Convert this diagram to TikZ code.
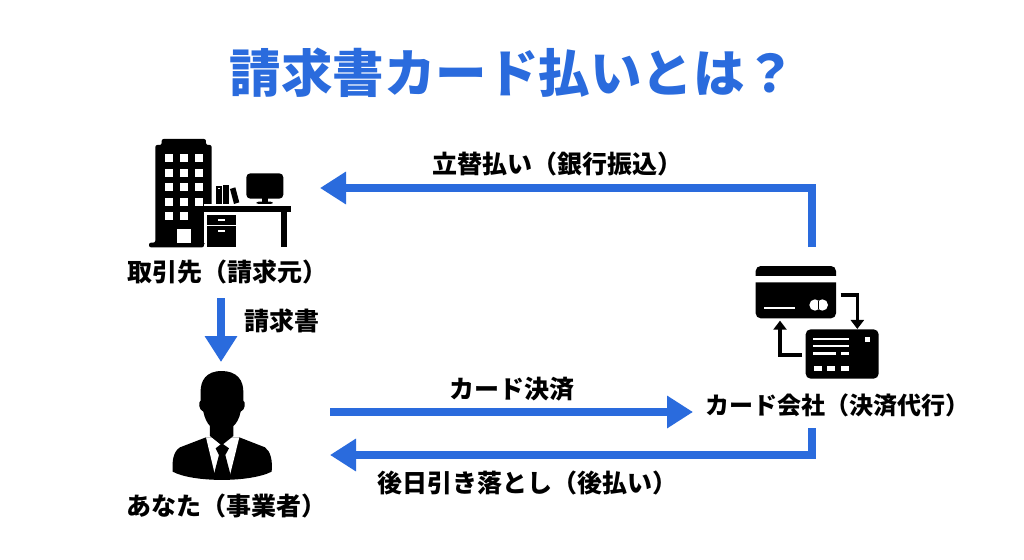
\documentclass[tikz,border=0pt]{standalone}
\usepackage{fontspec}
\setmainfont{Noto Sans CJK JP}
\usetikzlibrary{positioning, arrows.meta, calc}
\definecolor{flowblue}{HTML}{2A6BDD}

\begin{document}
\begin{tikzpicture}[
    x=1pt, y=-1pt,
    title/.style={font=\fontsize{51.5}{56}\selectfont\bfseries, text=flowblue, inner sep=0pt},
    label/.style={font=\fontsize{25}{28}\selectfont\bfseries, inner sep=0pt},
    slot/.style={inner sep=0pt, outer sep=0pt},
    arrow/.style={-{Triangle[length=26pt,width=31pt]}, line width=7.5pt, color=flowblue},
    smallarrow/.style={-{Triangle[length=9pt,width=13pt]}, line width=3.2pt},
    icon/.style={x=0.3333pt, y=-0.3333pt}
]
\useasboundingbox (0,0) rectangle (1024,559);
\fill[white] (0,0) rectangle (1024,559);

% Title
\node[title] (title) at (513,73) {請求書カード払いとは？};

% Slots for the three icons
\node[slot, minimum width=198pt, minimum height=110pt] (office) at (221,188) {};
\node[slot, minimum width=218pt, minimum height=110pt] (person) at (221,433) {};
\node[slot, minimum width=10pt, minimum height=130pt] (card) at (812,312) {};

% Labels
\node[label] (biller) at (227,272) {取引先（請求元）};
\node[label] (invoice) at (282,321) {請求書};
\node[label] (you) at (226,506) {あなた（事業者）};
\node[label] (advance) at (557,164) {立替払い（銀行振込）};
\node[label] (payment) at (512,389) {カード決済};
\node[label, minimum height=46pt, font=\fontsize{24}{28}\selectfont\bfseries] (company) at (837.5,405) {カード会社（決済代行）};
\node[label] (later) at (527.5,483) {後日引き落とし（後払い）};

% Connectors
\coordinate (billerEnd) at (221,298);
\coordinate (personEnd) at (221,362);
\coordinate (payEnd) at (693,412);
\draw[arrow] (card.north) |- (office.east);
\draw[arrow] (billerEnd) -- (personEnd);
\draw[arrow] ([yshift=21pt]person.east) -- (payEnd);
\draw[arrow] (company.south -| card.south) |- ([yshift=-22pt]person.east);

% Office building and desk
\begin{scope}[shift={(130,130)}, icon]
  \fill[rounded corners=2pt] (95,45) -- (95,27) -- (228,27) -- (228,45) -- (245,45) -- (245,338) -- (222,338) -- (222,352) -- (57,352) -- (57,338) -- (76,338) -- (76,45) -- cycle;
  \foreach \cx in {105,150,195}
    \foreach \cy in {72,116,160,203,245}
      \fill[white] (\cx,\cy) rectangle ++(23,24);
  \fill[white] (140,297) rectangle (182,340);
  \fill[white] (222,222) rectangle (245,340);
  \fill (195,245) rectangle (222,340);
  \fill (217,228) rectangle (484,247);
  \fill (453,247) rectangle (472,352);
  \fill (231,254) rectangle (317,284);
  \fill (231,288) rectangle (317,352);
  \fill[white] (264,266) rectangle (284,272);
  \fill[white] (264,300) rectangle (284,306);
  \fill (259,167) rectangle (276,221);
  \fill[white] (264,173) rectangle (270,178);
  \fill (279,164) rectangle (296,221);
  \fill (300,177) -- (316,172) -- (328,217) -- (312,222) -- cycle;
  \fill[rounded corners=4pt] (349,130) rectangle (460,206);
  \fill (397,204) rectangle (413,216);
  \fill[rounded corners=2pt] (380,215) rectangle (428,222);
\end{scope}

% Person in a suit
\begin{scope}[shift={(150,360)}, icon]
  \fill (68,335) .. controls (66,300) and (70,275) .. (90,262) -- (168,232) -- (268,232) -- (345,262) .. controls (362,275) and (368,300) .. (365,335) .. controls (300,368) and (130,368) .. (68,335) -- cycle;
  \fill[white] (168,232) -- (268,232) -- (240,345) -- (195,345) -- cycle;
  \fill (215,33) .. controls (170,33) and (150,60) .. (152,100) -- (152,122) .. controls (144,125) and (146,150) .. (160,155) .. controls (164,175) and (172,190) .. (180,198) -- (180,228) -- (215,256) -- (250,228) -- (250,198) .. controls (260,190) and (268,175) .. (272,155) .. controls (286,150) and (288,125) .. (280,122) -- (280,100) .. controls (282,60) and (260,33) .. (215,33) -- cycle;
  \fill (197,265) -- (216,250) -- (237,265) -- (226,285) -- (243,350) -- (190,350) -- (207,285) -- cycle;
\end{scope}

% Two cards
\begin{scope}[shift={(740,250)}, icon]
  \fill (47,78) [rounded corners=5pt] -- (47,48) -- (288,48) [sharp corners] -- (288,78) -- cycle;
  \fill (47,97) -- (288,97) [rounded corners=5pt] -- (288,205) -- (47,205) [sharp corners] -- cycle;
  \fill[white] (73,170) rectangle (165,178);
  \fill[white] (225,165) circle (17);
  \fill[white] (247,165) circle (17);
  \draw[line width=0.5pt] (236,153) -- (236,177);
  \draw[smallarrow] (302,135) -- (352,135) -- (352,237);
  \fill[rounded corners=5pt] (197,238) rectangle (416,386);
  \fill[white] (220,263) rectangle (327,271);
  \fill[white] (220,284) rectangle (327,292);
  \fill[white] (220,306) rectangle (287,314);
  \fill[white] (302,306) rectangle (327,314);
  \fill[white] (375,262) rectangle (391,276);
  \foreach \cx in {221,261,302}
    \fill[white] (\cx,347) rectangle ++(24,15);
  \draw[smallarrow] (186,315) -- (120,315) -- (120,212);
\end{scope}

\end{tikzpicture}
\end{document}
